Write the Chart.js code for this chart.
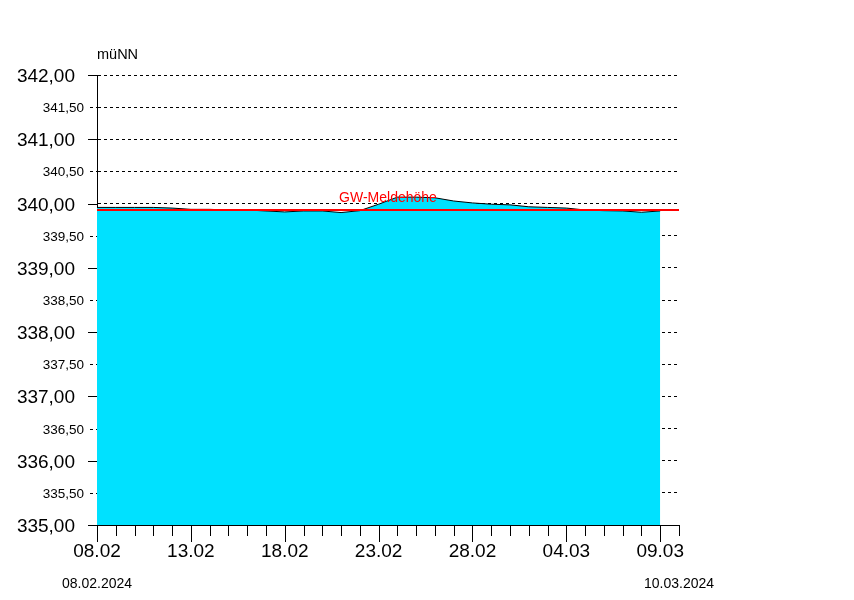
<!DOCTYPE html>
<html>
<head>
<meta charset="utf-8">
<script src="https://cdn.jsdelivr.net/npm/chart.js@4/dist/chart.umd.min.js"></script>
<style>
  body { margin: 0; background: #fff; }
  canvas { display: block; }
</style>
</head>
<body>
<canvas id="gwChart" width="854" height="600"></canvas>
<script>
// Grundwasserstand, daily readings 08.02 - 09.03 (müNN)
const levels = [339.94, 339.94, 339.94, 339.94, 339.93, 339.91, 339.91, 339.90, 339.90, 339.885,
  339.87, 339.885, 339.885, 339.86, 339.89, 339.99, 340.10, 340.10, 340.09, 340.04,
  340.01, 339.99, 339.98, 339.95, 339.94, 339.93, 339.90, 339.89, 339.885, 339.865, 339.885];
const dayLabels = ["08.02", "13.02", "18.02", "23.02", "28.02", "04.03", "09.03"];
const rangeLabels = ["08.02.2024", "10.03.2024"];
const meldehoehe = 339.90;
const meldeLabel = "GW-Meldehöhe";
const unitLabel = "müNN";
const yMin = 335, yMax = 342, yStep = 0.5;
const dayCount = 31;

const fmt = v => v.toFixed(2).replace(".", ",");

// draws the axis labels and tick marks the way the original plot does
const axisDecor = {
  id: "axisDecor",
  afterDraw(chart) {
    const ctx = chart.ctx;
    const xs = chart.scales.x, ys = chart.scales.y;
    const area = chart.chartArea;
    ctx.save();
    ctx.fillStyle = "#000";
    ctx.strokeStyle = "#000";
    ctx.lineWidth = 1;

    // y ticks + labels
    ys.ticks.forEach(t => {
      const y = Math.round(ys.getPixelForValue(t.value)) + 0.5;
      const whole = Math.abs(t.value % 1) < 1e-6;
      ctx.beginPath();
      if (whole) {
        ctx.setLineDash([]);
        ctx.moveTo(area.left - 9, y);
      } else {
        ctx.setLineDash([3, 3]);
        ctx.moveTo(area.left - 7, y);
      }
      ctx.lineTo(area.left, y);
      ctx.stroke();
      ctx.setLineDash([]);
      ctx.textAlign = "right";
      ctx.textBaseline = "middle";
      ctx.font = whole ? "19px Arial, 'Liberation Sans'" : "13.5px Arial, 'Liberation Sans'";
      ctx.fillText(fmt(t.value), whole ? area.left - 22 : area.left - 13, y + 1);
    });

    // x ticks (daily) + labels every 5 days
    for (let d = 0; d <= dayCount; d++) {
      const x = Math.round(xs.getPixelForValue(d)) + 0.5;
      const major = d % 5 === 0 && d <= 30;
      ctx.beginPath();
      ctx.moveTo(x, area.bottom);
      ctx.lineTo(x, area.bottom + (major ? 17 : 11));
      ctx.stroke();
    }
    ctx.textAlign = "center";
    ctx.textBaseline = "middle";
    ctx.font = "19px Arial, 'Liberation Sans'";
    dayLabels.forEach((lab, i) => {
      ctx.fillText(lab, xs.getPixelForValue(i * 5), 552);
    });

    ctx.font = "14px Arial, 'Liberation Sans'";
    ctx.fillText(rangeLabels[0], xs.getPixelForValue(0), 584);
    ctx.fillText(rangeLabels[1], xs.getPixelForValue(dayCount), 584);

    ctx.textAlign = "left";
    ctx.font = "14.5px Arial, 'Liberation Sans'";
    ctx.fillText(unitLabel, area.left, 55);

    ctx.textAlign = "center";
    ctx.fillStyle = "rgb(255,0,0)";
    ctx.font = "14px Arial, 'Liberation Sans'";
    ctx.fillText(meldeLabel, xs.getPixelForValue(15.5), ys.getPixelForValue(meldehoehe) - 12);
    ctx.restore();
  }
};

new Chart(document.getElementById("gwChart"), {
  type: "line",
  data: {
    datasets: [
      {
        data: levels.map((v, i) => ({ x: i, y: v })),
        borderColor: "#000",
        borderWidth: 1,
        backgroundColor: "rgb(0,225,255)",
        fill: "start",
        pointRadius: 0,
        tension: 0,
        order: 1
      },
      {
        data: [{ x: 0, y: meldehoehe }, { x: dayCount, y: meldehoehe }],
        borderColor: "rgb(255,0,0)",
        borderWidth: 2,
        fill: false,
        pointRadius: 0,
        order: 0
      }
    ]
  },
  options: {
    responsive: false,
    animation: false,
    events: [],
    layout: { padding: { top: 75, right: 175, left: 0, bottom: 0 } },
    plugins: { legend: { display: false }, tooltip: { enabled: false } },
    scales: {
      x: {
        type: "linear",
        min: 0,
        max: dayCount,
        ticks: { display: false, stepSize: 1 },
        grid: { display: false },
        border: { display: true, color: "#000", width: 1 },
        afterFit: s => { s.height = 75; }
      },
      y: {
        min: yMin,
        max: yMax,
        ticks: { display: false, stepSize: yStep },
        grid: { color: "#000", lineWidth: 1, drawTicks: false },
        border: { display: true, color: "#000", width: 1, dash: [3, 3] },
        afterFit: s => { s.height = undefined; s.width = 97; }
      }
    }
  },
  plugins: [axisDecor]
});
</script>
</body>
</html>
